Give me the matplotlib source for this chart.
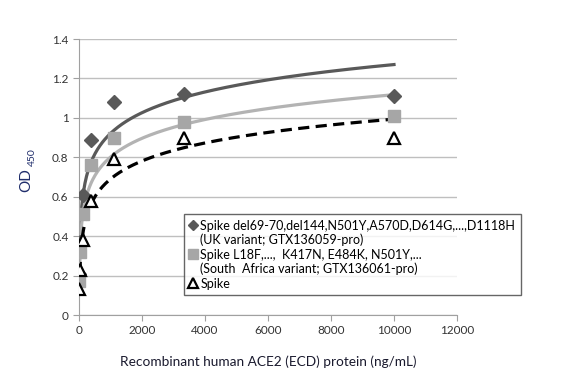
import numpy as np
import matplotlib
matplotlib.use("Agg")
import matplotlib.pyplot as plt
from matplotlib.lines import Line2D

plt.rcParams['font.family'] = ['Lato', 'DejaVu Sans']

# ACE2 concentrations (ng/mL), 3-fold dilution series
conc = [10000, 3333, 1111, 370, 123, 41, 13.7]

# OD450 readings
uk_od = [1.11, 1.12, 1.08, 0.89, 0.61, 0.37, 0.21]
sa_od = [1.01, 0.98, 0.90, 0.76, 0.51, 0.32, 0.17]
wt_od = [0.90, 0.90, 0.79, 0.58, 0.38, 0.23, 0.13]

labels = [
    "Spike del69-70,del144,N501Y,A570D,D614G,...,D1118H",
    "(UK variant; GTX136059-pro)",
    "Spike L18F,...,  K417N, E484K, N501Y,...",
    "(South  Africa variant; GTX136061-pro)",
    "Spike",
]

fig = plt.figure(figsize=(5.82, 3.82), dpi=100)
ax = fig.add_axes([79/582, 1-315/382, (457-79)/582, (315-39)/382])

x = np.array(conc, dtype=float)
xs = np.linspace(x.min(), x.max(), 400)

# logarithmic trendlines (like Excel), fitted to each series
def log_fit(y):
    a, b = np.polyfit(np.log(x), np.array(y), 1)
    return a*np.log(xs) + b

ax.plot(xs, log_fit(uk_od), color='#595959', lw=2.3, zorder=2)
ax.plot(xs, log_fit(sa_od), color='#b3b3b3', lw=2.3, zorder=2)
ax.plot(xs, log_fit(wt_od), color='black', lw=2.3, dashes=(3.5, 2), zorder=2)

ax.plot(conc, uk_od, 'D', color='#595959', ms=7, ls='none', zorder=3)
ax.plot(conc, sa_od, 's', color='#a6a6a6', ms=8, ls='none', zorder=3)
ax.plot(conc, wt_od, '^', mfc='white', mec='black', mew=1.6, ms=8, ls='none', zorder=4)

ax.set_xlim(0, 12000)
ax.set_ylim(0, 1.4)
ax.set_xticks(np.arange(0, 12001, 2000))
ax.set_yticks(np.arange(0, 1.41, 0.2))
ax.set_yticklabels(['0', '0.2', '0.4', '0.6', '0.8', '1', '1.2', '1.4'])
ax.yaxis.grid(True, color='#bfbfbf', lw=1)
ax.set_axisbelow(True)
for s in ['top', 'right']:
    ax.spines[s].set_visible(False)
for s in ['left', 'bottom']:
    ax.spines[s].set_color('#a0a0a0')
ax.tick_params(axis='both', colors='#a0a0a0', labelcolor='#333333', labelsize=8.5, length=4)

ax.set_xlabel("Recombinant human ACE2 (ECD) protein (ng/mL)", fontsize=9.8, color='#1a1a2e', labelpad=14)

# y label "OD" with subscript 450
fig.text(26/582, 1-180/382, "OD", rotation=90, ha='center', va='center',
         fontsize=11, color='#1f2d6b')
fig.text(32/582, 1-157/382, "450", rotation=90, ha='center', va='center',
         fontsize=7.5, color='#1f2d6b')

# legend handles (smaller markers than in the plot)
leg_handles = [
    Line2D([], [], ls='none', marker='D', color='#595959', ms=5),
    Line2D([], [], ls='none', marker='None'),
    Line2D([], [], ls='none', marker='s', color='#a6a6a6', ms=7),
    Line2D([], [], ls='none', marker='None'),
    Line2D([], [], ls='none', marker='^', mfc='white', mec='black', mew=1.6, ms=7),
]
leg = fig.legend(leg_handles, labels,
                 loc='upper left', bbox_to_anchor=(184/582, 1-214/382),
                 borderaxespad=0, fontsize=9.0, frameon=True, fancybox=False,
                 handlelength=0.6, handletextpad=0.25, labelspacing=0.18,
                 borderpad=0.45)
leg.get_frame().set_edgecolor('#404040')
leg.get_frame().set_linewidth(1.0)
for t in leg.get_texts():
    t.set_color('black')

fig.savefig('out.png', dpi=100)
